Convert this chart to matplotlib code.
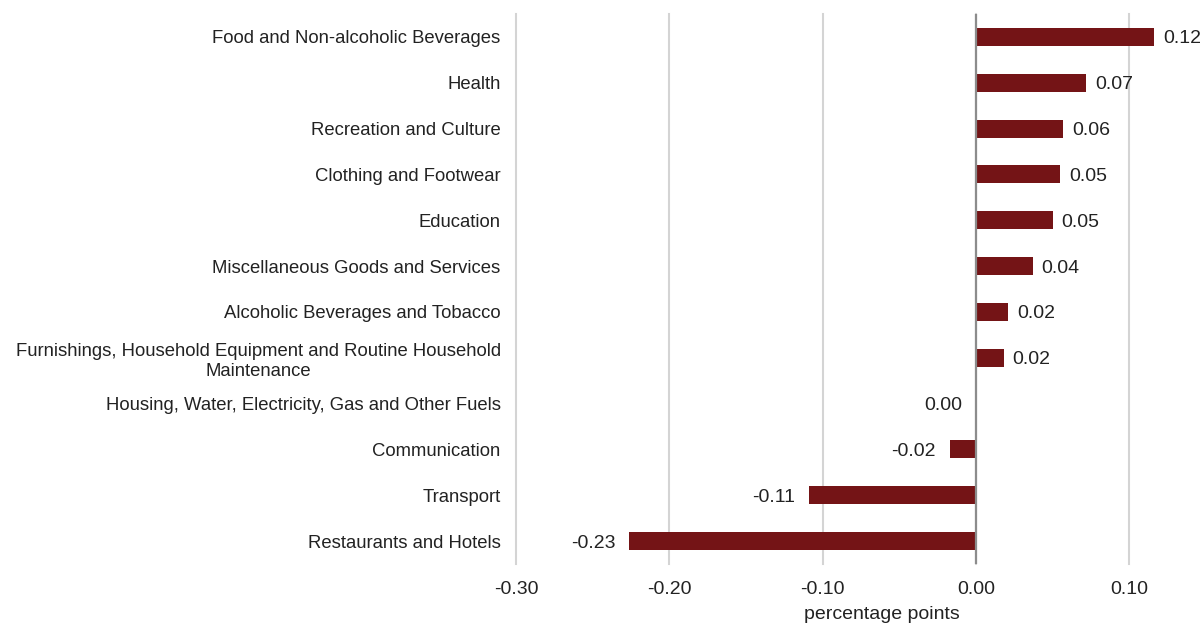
import numpy as np
import matplotlib.pyplot as plt

plt.rcParams['font.family'] = ['Liberation Sans', 'DejaVu Sans']

categories = ['Food and Non-alcoholic Beverages', 'Health', 'Recreation and Culture',
              'Clothing and Footwear', 'Education', 'Miscellaneous Goods and Services',
              'Alcoholic Beverages and Tobacco',
              'Furnishings, Household Equipment and Routine Household\nMaintenance',
              'Housing, Water, Electricity, Gas and Other Fuels', 'Communication',
              'Transport', 'Restaurants and Hotels']
values = [0.116, 0.072, 0.057, 0.055, 0.050, 0.037, 0.021, 0.018, 0.0, -0.017, -0.109, -0.226]
value_labels = ['0.12', '0.07', '0.06', '0.05', '0.05', '0.04', '0.02', '0.02',
                '0.00', '-0.02', '-0.11', '-0.23']
xticks = [-0.30, -0.20, -0.10, 0.00, 0.10]

fig = plt.figure(figsize=(12.03, 6.26), dpi=100)
ax = fig.add_axes([516/1203, 1-564/626, 1-516/1203, 550/626])

y = np.arange(len(categories))[::-1]
ax.barh(y, values, height=0.39, color='#741416', zorder=3)

for yi, v, lab in zip(y, values, value_labels):
    if v > 0:
        ax.annotate(lab, (v, yi), xytext=(6.5, 0), textcoords='offset points',
                    ha='left', va='center_baseline', fontsize=14, color='#222222')
    else:
        ax.annotate(lab, (v, yi), xytext=(-10, 0), textcoords='offset points',
                    ha='right', va='center_baseline', fontsize=14, color='#222222')

ax.set_xlim(-0.30, 0.1481)
ax.set_ylim(-0.5, len(categories)-0.5)
ax.set_xticks(xticks)
ax.set_xticklabels(['%.2f' % t for t in xticks], fontsize=14, color='#222222')
ax.set_yticks(y)
ax.set_yticklabels(categories, fontsize=13.3, color='#222222', multialignment='center',
                   linespacing=1.25)
ax.tick_params(axis='both', length=0)
ax.tick_params(axis='y', pad=11)
ax.tick_params(axis='x', pad=12)

ax.grid(axis='x', color='#d4d4d4', linewidth=1.5, zorder=0)
for gl in ax.get_xgridlines():
    gl.set_clip_on(False)
ax.axvline(0, color='#8c8c8c', linewidth=1.6, zorder=4)
for s in ax.spines.values():
    s.set_visible(False)

ax.set_xlabel('percentage points', fontsize=14, color='#222222')
ax.xaxis.set_label_coords((882-516)/(1203-516), -0.077)

fig.savefig('out.png', dpi=100)
